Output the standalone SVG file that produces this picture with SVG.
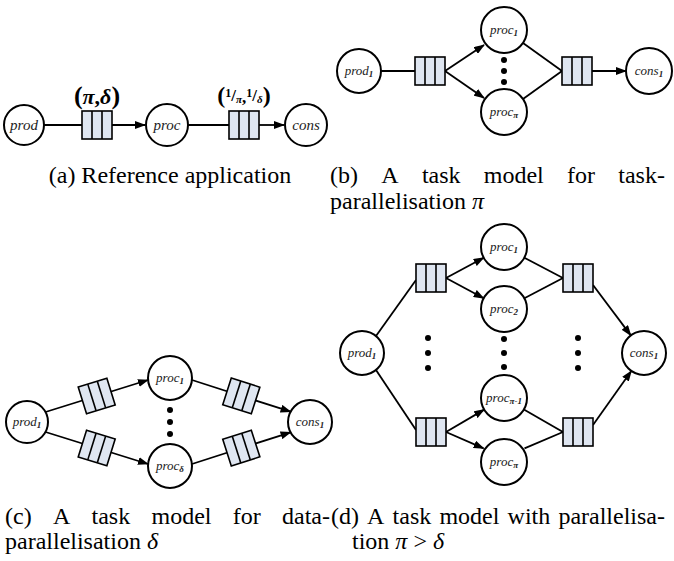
<svg xmlns="http://www.w3.org/2000/svg" xmlns:xlink="http://www.w3.org/1999/xlink" width="674" height="561" viewBox="0 0 674 561">
<style>
.n{fill:#fff;stroke:#000;stroke-width:2}
.c{fill:none;stroke:#000;stroke-width:1.8}
.a{fill:none;stroke:#000;stroke-width:1.8;marker-end:url(#ah)}
.q{fill:#dfe6f1;stroke:#000;stroke-width:1.6}
.ql{stroke:#000;stroke-width:1.6}
text{font-family:'Liberation Serif','Times New Roman','DejaVu Serif',serif}
.t{font-style:italic;font-size:13px;text-anchor:middle;fill:#222}
.ta{font-size:15px}
.s{font-style:italic;font-weight:bold;font-size:9px}
.cap{font-size:24px;fill:#000}
.lab{font-weight:bold;fill:#000;text-anchor:middle}
.d{fill:#000}
</style>
<defs>
<marker id="ah" markerUnits="userSpaceOnUse" markerWidth="11" markerHeight="8" refX="10" refY="4" orient="auto">
<path d="M0,0 L11,4 L0,8 z" fill="#000"/>
</marker>
<g id="queue">
<rect class="q" x="-15" y="-14" width="30" height="28"/>
<line class="ql" x1="-5" y1="-14" x2="-5" y2="14"/>
<line class="ql" x1="5" y1="-14" x2="5" y2="14"/>
</g>
</defs>

<g id="connectors">
<line class="c" x1="44" y1="125" x2="82" y2="125"/>
<line class="a" x1="112" y1="125" x2="145" y2="125"/>
<line class="c" x1="188" y1="125" x2="229" y2="125"/>
<line class="a" x1="259" y1="125" x2="284" y2="125"/>
<line class="c" x1="381" y1="71" x2="415" y2="71"/>
<line class="a" x1="445" y1="71" x2="484" y2="45"/>
<line class="a" x1="445" y1="71" x2="484" y2="98"/>
<line class="c" x1="523" y1="43" x2="562" y2="71"/>
<line class="c" x1="523" y1="99" x2="562" y2="71"/>
<line class="a" x1="592" y1="71" x2="626" y2="71"/>
<line class="a" x1="45.5" y1="412" x2="148" y2="380"/>
<line class="a" x1="45.5" y1="432" x2="148" y2="464"/>
<line class="a" x1="192" y1="380" x2="290.6" y2="411.7"/>
<line class="a" x1="192" y1="464" x2="290.6" y2="432.3"/>
<line class="c" x1="376" y1="336" x2="416" y2="280"/>
<line class="c" x1="376" y1="370" x2="416" y2="430"/>
<line class="a" x1="446" y1="278" x2="483.7" y2="257.8"/>
<line class="a" x1="446" y1="278" x2="483.7" y2="298.2"/>
<line class="a" x1="446" y1="432" x2="484.2" y2="409.6"/>
<line class="a" x1="446" y1="432" x2="483.6" y2="448.4"/>
<line class="c" x1="524.4" y1="257.7" x2="563" y2="278"/>
<line class="c" x1="524.4" y1="298.3" x2="563" y2="278"/>
<line class="c" x1="523.9" y1="409.5" x2="563" y2="432"/>
<line class="c" x1="524.5" y1="448.4" x2="563" y2="432"/>
<line class="a" x1="593" y1="285" x2="630.8" y2="335.4"/>
<line class="a" x1="593" y1="425" x2="631.3" y2="371"/>
</g>

<g id="queues">
<use xlink:href="#queue" transform="translate(97,125)"/>
<use xlink:href="#queue" transform="translate(244,125)"/>
<use xlink:href="#queue" transform="translate(430,71)"/>
<use xlink:href="#queue" transform="translate(577,71)"/>
<use xlink:href="#queue" transform="translate(96.7,396) rotate(-17.3)"/>
<use xlink:href="#queue" transform="translate(96.7,448) rotate(17.3)"/>
<use xlink:href="#queue" transform="translate(241.3,395.9) rotate(17.8)"/>
<use xlink:href="#queue" transform="translate(241.3,448.1) rotate(-17.8)"/>
<use xlink:href="#queue" transform="translate(431,278)"/>
<use xlink:href="#queue" transform="translate(431,432)"/>
<use xlink:href="#queue" transform="translate(578,278)"/>
<use xlink:href="#queue" transform="translate(578,432)"/>
</g>

<g id="labels-a">
<text class="lab" x="97" y="104" font-size="22"><tspan font-size="26">(</tspan><tspan font-style="italic">π</tspan>,<tspan font-style="italic">δ</tspan><tspan font-size="26">)</tspan></text>
<text class="lab" x="244" y="103" font-size="22"><tspan font-size="24">(</tspan><tspan font-size="12" dy="-6">1</tspan><tspan font-size="17" dy="4">/</tspan><tspan font-size="11" font-style="italic" dy="2">π</tspan><tspan font-size="17" dy="0">,</tspan><tspan font-size="12" dy="-6">1</tspan><tspan font-size="17" dy="4">/</tspan><tspan font-size="11" font-style="italic" dy="2">δ</tspan><tspan font-size="24" dy="0">)</tspan></text>
</g>

<g id="a-prod"><circle class="n" cx="24" cy="125" r="20"/><text class="t ta" x="24" y="130">prod</text></g>
<g id="a-proc"><circle class="n" cx="167" cy="125" r="21"/><text class="t ta" x="167" y="130">proc</text></g>
<g id="a-cons"><circle class="n" cx="306" cy="125" r="21"/><text class="t ta" x="306" y="130">cons</text></g>

<g id="b-prod1"><circle class="n" cx="359" cy="71" r="22"/><text class="t" x="359" y="75">prod<tspan class="s" dy="2">1</tspan></text></g>
<g id="b-proc1"><circle class="n" cx="504" cy="30" r="23"/><text class="t" x="504" y="34">proc<tspan class="s" dy="2">1</tspan></text></g>
<g id="b-procpi"><circle class="n" cx="504" cy="112" r="23"/><text class="t" x="504" y="116">proc<tspan class="s" dy="2">π</tspan></text></g>
<g id="b-cons1"><circle class="n" cx="649" cy="71" r="23"/><text class="t" x="649" y="75">cons<tspan class="s" dy="2">1</tspan></text></g>
<g id="b-dots"><circle class="d" cx="504" cy="60" r="3"/><circle class="d" cx="504" cy="71" r="3"/><circle class="d" cx="504" cy="82" r="3"/></g>

<g id="c-prod1"><circle class="n" cx="27" cy="422" r="21"/><text class="t" x="27" y="426">prod<tspan class="s" dy="2">1</tspan></text></g>
<g id="c-proc1"><circle class="n" cx="170" cy="378" r="22"/><text class="t" x="170" y="382">proc<tspan class="s" dy="2">1</tspan></text></g>
<g id="c-procd"><circle class="n" cx="170" cy="466" r="22"/><text class="t" x="170" y="470">proc<tspan class="s" dy="2">δ</tspan></text></g>
<g id="c-cons1"><circle class="n" cx="310" cy="422" r="22"/><text class="t" x="310" y="426">cons<tspan class="s" dy="2">1</tspan></text></g>
<g id="c-dots"><circle class="d" cx="170" cy="410" r="3"/><circle class="d" cx="170" cy="422" r="3"/><circle class="d" cx="170" cy="434" r="3"/></g>

<g id="d-prod1"><circle class="n" cx="362" cy="353" r="22"/><text class="t" x="362" y="357">prod<tspan class="s" dy="2">1</tspan></text></g>
<g id="d-proc1"><circle class="n" cx="504" cy="247" r="23"/><text class="t" x="504" y="251">proc<tspan class="s" dy="2">1</tspan></text></g>
<g id="d-proc2"><circle class="n" cx="504" cy="309" r="23"/><text class="t" x="504" y="313">proc<tspan class="s" dy="2">2</tspan></text></g>
<g id="d-procpim1"><circle class="n" cx="504" cy="398" r="23"/><text class="t" x="504" y="402">proc<tspan class="s" dy="2">π-1</tspan></text></g>
<g id="d-procpi"><circle class="n" cx="504" cy="462" r="23"/><text class="t" x="504" y="466">proc<tspan class="s" dy="2">π</tspan></text></g>
<g id="d-cons1"><circle class="n" cx="644" cy="353" r="22"/><text class="t" x="644" y="357">cons<tspan class="s" dy="2">1</tspan></text></g>
<g id="d-dots">
<circle class="d" cx="428" cy="338" r="3"/><circle class="d" cx="428" cy="353" r="3"/><circle class="d" cx="428" cy="368" r="3"/>
<circle class="d" cx="504" cy="339" r="3"/><circle class="d" cx="504" cy="353" r="3"/><circle class="d" cx="504" cy="367" r="3"/>
<circle class="d" cx="578" cy="338" r="3"/><circle class="d" cx="578" cy="353" r="3"/><circle class="d" cx="578" cy="368" r="3"/>
</g>

<g id="captions">
<text class="cap" x="170" y="183" text-anchor="middle">(a) Reference application</text>
<text class="cap" y="183"><tspan x="330">(b)</tspan><tspan x="381.3">A</tspan><tspan x="421.9">task</tspan><tspan x="483.8">model</tspan><tspan x="567.1">for</tspan><tspan x="618.3">task-</tspan></text>
<text class="cap" x="330" y="209">parallelisation <tspan font-style="italic">π</tspan></text>
<text class="cap" y="524"><tspan x="5">(c)</tspan><tspan x="52.9">A</tspan><tspan x="91.5">task</tspan><tspan x="151.5">model</tspan><tspan x="232.8">for</tspan><tspan x="282">data-</tspan></text>
<text class="cap" x="5" y="549">parallelisation <tspan font-style="italic">δ</tspan></text>
<text class="cap" y="524"><tspan x="331">(d)</tspan><tspan x="367.1">A</tspan><tspan x="392.6">task</tspan><tspan x="439.4">model</tspan><tspan x="507.6">with</tspan><tspan x="558.4">parallelisa-</tspan></text>
<text class="cap" x="352" y="549">tion <tspan font-style="italic">π</tspan> &gt; <tspan font-style="italic">δ</tspan></text>
</g>
</svg>
